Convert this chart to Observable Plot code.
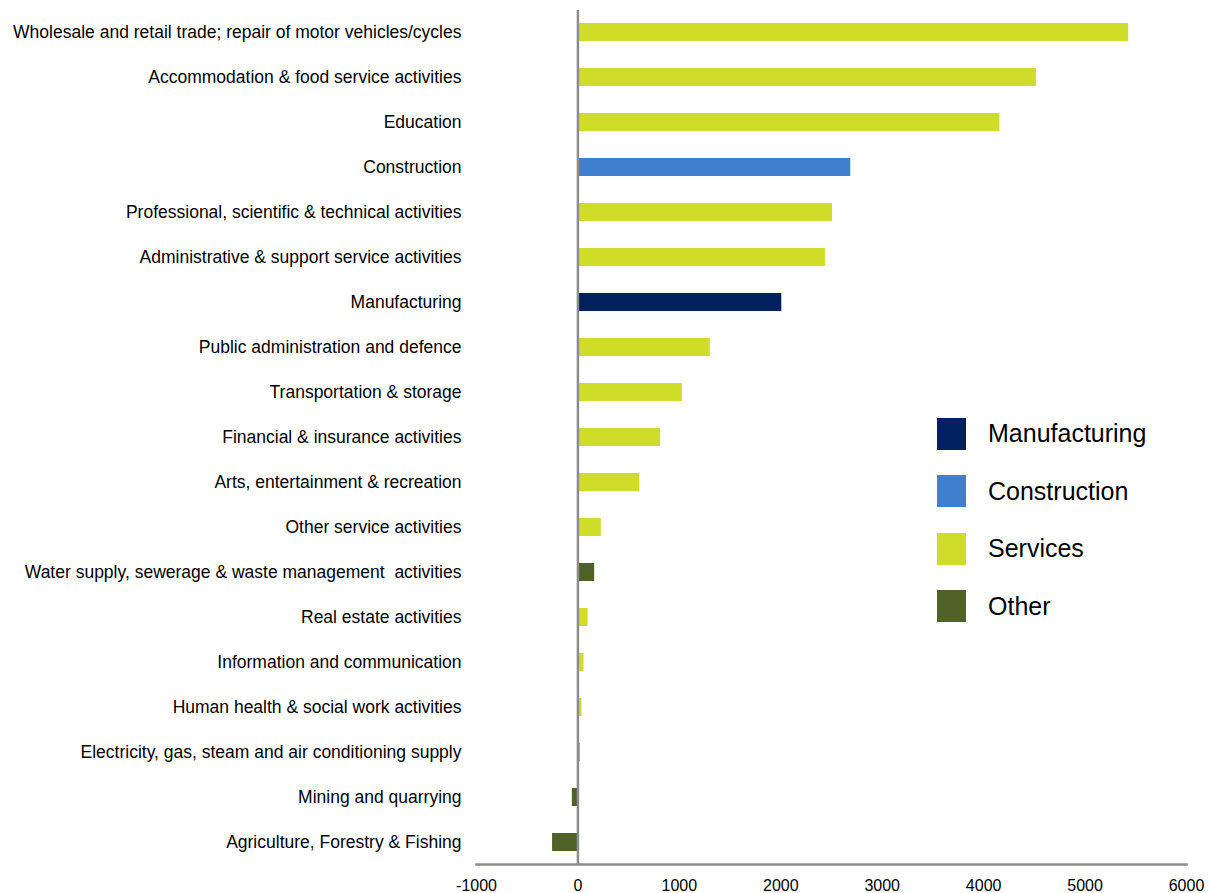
<!DOCTYPE html>
<html><head><meta charset="utf-8">
<script src="https://cdn.jsdelivr.net/npm/d3@7"></script>
<script src="https://cdn.jsdelivr.net/npm/@observablehq/plot@0.6"></script>
<style>
body{margin:0;background:#fff;font-family:"Liberation Sans",Arial,sans-serif;}
#wrap{position:relative;width:1210px;height:893px;}
#legend{position:absolute;left:937px;top:405px;}
.li{display:flex;align-items:center;height:57.5px;}
.sw{width:29px;height:32px;margin-right:22px;}
.lt{font-size:25px;color:#000;}
</style></head><body>
<div id="wrap"><div id="chart"></div><div id="legend"></div></div>
<script>
const industries = [
 "Wholesale and retail trade; repair of motor vehicles/cycles",
 "Accommodation & food service activities",
 "Education",
 "Construction",
 "Professional, scientific & technical activities",
 "Administrative & support service activities",
 "Manufacturing",
 "Public administration and defence",
 "Transportation & storage",
 "Financial & insurance activities",
 "Arts, entertainment & recreation",
 "Other service activities",
 "Water supply, sewerage & waste management  activities",
 "Real estate activities",
 "Information and communication",
 "Human health & social work activities",
 "Electricity, gas, steam and air conditioning supply",
 "Mining and quarrying",
 "Agriculture, Forestry & Fishing"
];
const values = [5430, 4520, 4160, 2690, 2510, 2440, 2010, 1305, 1030, 815, 610, 230, 165, 100, 60, 40, 20, -55, -250];
const groups = ["Services","Services","Services","Construction","Services","Services","Manufacturing","Services","Services","Services","Services","Services","Other","Services","Services","Services","Other","Other","Other"];
const groupNames = ["Manufacturing","Construction","Services","Other"];
const groupColors = ["#002060","#3f7fcc","#cfdd29","#4f6228"];
const xTicks = [-1000,0,1000,2000,3000,4000,5000,6000];

const data = industries.map((d,i)=>({industry:d, value:values[i], group:groups[i]}));

const chart = Plot.plot({
  width:1210, height:893,
  marginLeft:476, marginRight:24, marginTop:10, marginBottom:29,
  style:{fontFamily:"'Liberation Sans', Arial, sans-serif", fontSize:"16px", color:"#000"},
  x:{domain:[-1000,6000], ticks:xTicks},
  y:{domain:industries, padding:0.6, range:[-4,878]},
  color:{domain:groupNames, range:groupColors},
  marks:[
    Plot.barX(data,{x:"value", y:"industry", fill:"group"}),
    Plot.ruleX([0],{stroke:"#8c8c8c", strokeWidth:2.5}),
    Plot.frame({anchor:"bottom", stroke:"#8c8c8c", strokeWidth:2.5}),
    Plot.axisY({tickSize:0, tickPadding:15, label:null, fontSize:17.5}),
    Plot.axisX({ticks:xTicks, tickSize:0, tickPadding:15, label:null, fontSize:16, tickFormat:d=>String(d)})
  ]
});
document.getElementById("chart").appendChild(chart);

const lg = document.getElementById("legend");
groupNames.forEach((g,i)=>{
  const row=document.createElement("div"); row.className="li";
  const sw=document.createElement("div"); sw.className="sw"; sw.style.background=groupColors[i];
  const t=document.createElement("span"); t.className="lt"; t.textContent=g;
  row.appendChild(sw); row.appendChild(t); lg.appendChild(row);
});
</script>
</body></html>
